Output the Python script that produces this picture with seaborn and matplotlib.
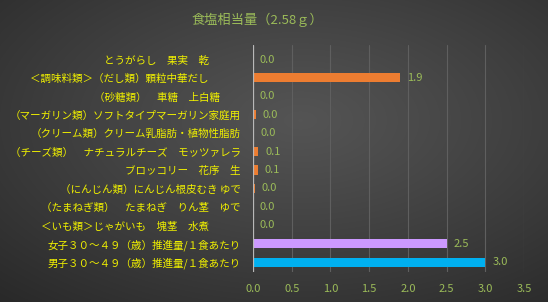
import numpy as np
import pandas as pd
import matplotlib
matplotlib.use("Agg")
import matplotlib.pyplot as plt
import matplotlib.transforms as mtransforms
import seaborn as sns

# ---- data ----
categories = [
    "とうがらし　果実　乾　　　",
    "＜調味料類＞（だし類）顆粒中華だし　　　",
    "（砂糖類）　車糖　上白糖　　",
    "（マーガリン類）ソフトタイプマーガリン家庭用",
    "（クリーム類）クリーム乳脂肪・植物性脂肪",
    "（チーズ類）　ナチュラルチーズ　モッツァレラ",
    "ブロッコリー　花序　生",
    "（にんじん類）にんじん根皮むき ゆで",
    "（たまねぎ類）　たまねぎ　りん茎　ゆで",
    "＜いも類＞じゃがいも　塊茎　水煮　　　",
    "女子３０～４９（歳）推進量/１食あたり",
    "男子３０～４９（歳）推進量/１食あたり",
]
values = [0.0, 1.9, 0.0, 0.035, 0.006, 0.07, 0.06, 0.02, 0.0, 0.0, 2.5, 3.0]
x_ticks = [0.0, 0.5, 1.0, 1.5, 2.0, 2.5, 3.0, 3.5]
title = "食塩相当量（2.58ｇ）"

# ---- styles ----
bar_colors = ["#ed7d31"] * 10 + ["#cc99ff", "#00b0f0"]
label_yellow = "#f0f000"
green = "#9bbb59"

sns.set_theme(style="dark")
plt.rcParams["font.family"] = ["Noto Sans CJK JP", "DejaVu Sans"]

W, H = 548, 302
fig = plt.figure(figsize=(W / 100, H / 100), dpi=100)

# background radial gradient
bg = fig.add_axes([0, 0, 1, 1], zorder=-10)
yy, xx = np.mgrid[0:H, 0:W]
cx, cy = 300, 120
r = np.sqrt(((xx - cx) / W) ** 2 + ((yy - cy) / H) ** 2)
r = r / r.max()
c_center, c_edge = 0.33, 0.16
g = c_center - (c_center - c_edge) * r ** 1.1
img = np.dstack([g, g, g])
bg.imshow(img, aspect="auto", extent=[0, 1, 0, 1], origin="upper")
bg.axis("off")

ax = fig.add_axes([253 / W, 1 - 272 / H, (524 - 253) / W, (272 - 45) / H])
ax.set_facecolor((0, 0, 0, 0))

df = pd.DataFrame({"cat": categories, "val": values})
palette = dict(zip(categories, bar_colors))
sns.barplot(data=df, x="val", y="cat", hue="cat", palette=palette,
            orient="h", width=0.49, legend=False, ax=ax, saturation=1,
            linewidth=0, edgecolor="none", zorder=3)

ax.set_xlim(0, 3.5)
ax.set_ylim(11.54, -0.79)
ax.set_xticks(x_ticks)
ax.set_xticklabels([f"{t:.1f}" for t in x_ticks])
ax.set_xlabel("")
ax.set_ylabel("")
ax.grid(axis="x", color="#5f5f5f", linewidth=0.8, zorder=0)
ax.grid(axis="y", visible=False)
ax.axvline(0, color="#b8b8b8", linewidth=0.9, zorder=4)
for s in ax.spines.values():
    s.set_visible(False)
ax.tick_params(axis="x", colors=green, labelsize=8, length=0, pad=9)
ax.tick_params(axis="y", colors=label_yellow, labelsize=7.6, length=0, pad=9)
for t in ax.get_xticklabels():
    t.set_color(green)
for t in ax.get_yticklabels():
    t.set_color(label_yellow)

offset = mtransforms.offset_copy(ax.transData, fig=fig, x=7, y=0, units="dots")
for i, v in enumerate(values):
    ax.text(v, i, f"{v:.1f}", transform=offset, color=green, fontsize=8,
            va="center", ha="left", zorder=5)

fig.text(257 / W, 1 - 20 / H, title, color=green, fontsize=9.5,
         ha="center", va="center")

fig.savefig("out.png", dpi=100)
